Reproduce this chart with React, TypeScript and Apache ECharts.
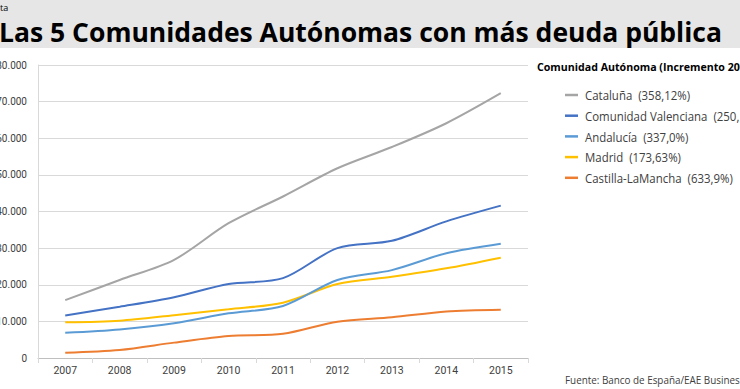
import React, { useEffect, useRef } from "react";
import * as echarts from "echarts";

const years = ["2007", "2008", "2009", "2010", "2011", "2012", "2013", "2014", "2015"];
const seriesNames = [
  "Cataluña  (358,12%)",
  "Comunidad Valenciana  (250,",
  "Andalucía  (337,0%)",
  "Madrid  (173,63%)",
  "Castilla-LaMancha  (633,9%)",
];
const cataluna = [15800, 21300, 26800, 36800, 44100, 51800, 57600, 64100, 72300];
const valenciana = [11600, 14000, 16600, 20200, 21800, 30000, 32000, 37300, 41600];
const andalucia = [6900, 7800, 9500, 12200, 14200, 21300, 24000, 28600, 31200];
const madrid = [9750, 10200, 11700, 13300, 15100, 20200, 22200, 24500, 27400];
const castilla = [1450, 2200, 4200, 6000, 6600, 9900, 11100, 12700, 13200];
const colors = ["#a5a5a5", "#4472c4", "#5b9bd5", "#ffc000", "#ed7d31"];

const titleText = "Las 5 Comunidades Autónomas con más deuda pública";
const legendTitle = "Comunidad Autónoma (Incremento 2007-2015)";
const sourceText = "Fuente: Banco de España/EAE Business School";

const FONT = "'Open Sans', sans-serif";
const AXIS_FONT = "Roboto, sans-serif";

function measure(text: string, font: string) {
  const c = document.createElement("canvas").getContext("2d");
  if (!c) return text.length * 7;
  c.font = font;
  return c.measureText(text).width || text.length * 7;
}

export default function App() {
  const ref = useRef<HTMLDivElement>(null);
  useEffect(() => {
    if (!ref.current) return;
    const chart = echarts.init(ref.current, undefined, { renderer: "svg" });
    const data = [cataluna, valenciana, andalucia, madrid, castilla];

    const titleSize = 27;
    const titleScale = 723 / measure(titleText, `bold ${titleSize}px 'Open Sans'`);
    const ltSize = 11;
    const ltScale = 203 / measure("Comunidad Autónoma (Incremento 20", `bold ${ltSize}px 'Open Sans'`);
    const itemSize = 12;
    const itemScale = 105 / measure(seriesNames[0], `${itemSize}px 'Open Sans'`);
    const srcSize = 11;
    const srcScale = 175 / measure("Fuente: Banco de España/EAE Busines", `${srcSize}px 'Open Sans'`);

    const legendYs = [95, 115.7, 136.4, 157.1, 177.8];
    const legendGraphics: any[] = [];
    seriesNames.forEach((n, i) => {
      legendGraphics.push({
        type: "rect",
        shape: { x: 565, y: legendYs[i] - 1.25, width: 13, height: 2.5 },
        style: { fill: colors[i] },
      });
      legendGraphics.push({
        type: "text",
        x: 585,
        y: legendYs[i],
        scaleX: itemScale,
        style: { text: n, fontSize: itemSize, fontFamily: FONT, fill: "#404040", verticalAlign: "middle" },
      });
    });

    chart.setOption({
      animation: false,
      backgroundColor: "#ffffff",
      textStyle: { fontFamily: FONT },
      graphic: [
        { type: "rect", shape: { x: 0, y: 0, width: 740, height: 48 }, style: { fill: "#e6e6e6" }, z: -1 },
        { type: "text", x: 0, y: 7, style: { text: "ta", fontSize: 9, fontFamily: FONT, fill: "#000", verticalAlign: "middle" } },
        {
          type: "text", x: -1, y: 31.5, scaleX: titleScale,
          style: { text: titleText, fontSize: titleSize, fontWeight: "bold", fontFamily: FONT, fill: "#000", verticalAlign: "middle" },
        },
        {
          type: "text", x: 537, y: 66, scaleX: ltScale,
          style: { text: legendTitle, fontSize: ltSize, fontWeight: "bold", fontFamily: FONT, fill: "#000", verticalAlign: "middle" },
        },
        {
          type: "text", x: 565, y: 380, scaleX: srcScale,
          style: { text: sourceText, fontSize: srcSize, fontFamily: FONT, fill: "#404040", verticalAlign: "middle" },
        },
        ...legendGraphics,
      ],
      grid: { left: 38, right: 212, top: 65, bottom: 31, outerBoundsMode: "none", containLabel: false },
      xAxis: {
        type: "category",
        data: years,
        boundaryGap: true,
        axisLine: { lineStyle: { color: "#bfbfbf" } },
        axisTick: { show: true, lineStyle: { color: "#d9d9d9" } },
        axisLabel: { color: "#404040", fontSize: 10.5, margin: 7, fontFamily: AXIS_FONT },
      },
      yAxis: {
        type: "value",
        min: 0,
        max: 80000,
        interval: 10000,
        axisLine: { show: true, lineStyle: { color: "#d9d9d9" } },
        axisTick: { show: false },
        splitLine: { lineStyle: { color: "#d9d9d9" } },
        axisLabel: {
          color: "#404040",
          fontSize: 10,
          margin: 11,
          fontFamily: AXIS_FONT,
          formatter: (v: number) => String(v).replace(/\B(?=(\d{3})+(?!\d))/g, "."),
        },
      },
      series: seriesNames.map((n, i) => ({
        name: n,
        type: "line",
        data: data[i],
        smooth: 0.3,
        showSymbol: false,
        symbol: "none",
        color: colors[i],
        lineStyle: { width: 2, color: colors[i] },
        z: 10 - i,
      })),
    });
    return () => chart.dispose();
  }, []);
  return <div ref={ref} style={{ position: "fixed", left: 0, top: 0, width: 740, height: 389 }} />;
}
